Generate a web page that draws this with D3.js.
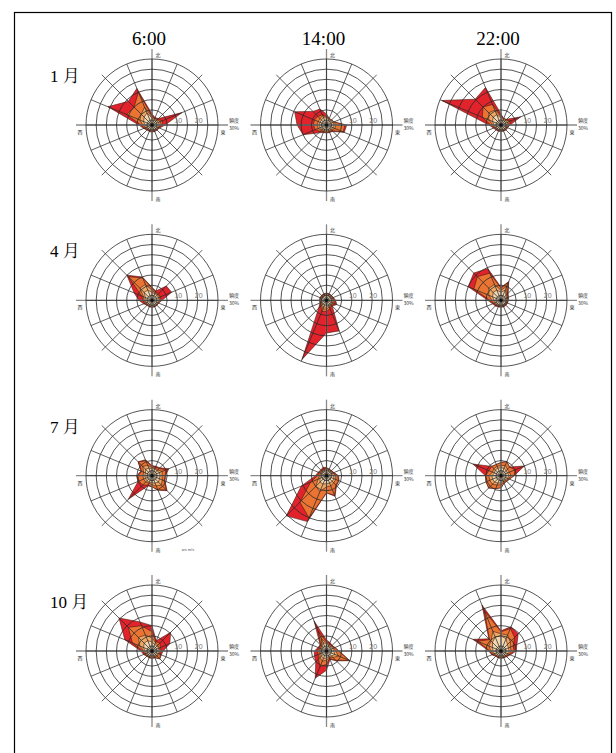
<!DOCTYPE html>
<html><head><meta charset="utf-8">
<script src="https://cdn.jsdelivr.net/npm/d3@7/dist/d3.min.js"></script>
<style>body{margin:0;background:#fff}svg{display:block}</style>
</head><body>
<svg id="c" width="616" height="753"></svg>
<script>
// ---- data (cumulative frequency %, 16 directions N, NNE ... NNW; 4 speed classes) ----
const times = ["6:00", "14:00", "22:00"];
const months = ["1 月", "4 月", "7 月", "10 月"];
const directions = ["N","NNE","NE","ENE","E","ESE","SE","SSE","S","SSW","SW","WSW","W","WNW","NW","NNW"];
const ringTicks = [0, 5, 10, 15, 20, 25, 30];
const tickLabels = ["10", "20"];

const jan06 = [
 [1,0.5,0.5,1,1,0.5,0.5,0.3,0.3,0.3,0.3,0.5,1,2,3,4],
 [1.5,1,1,2,1.5,1,0.5,0.5,0.5,0.5,0.5,1,2,4,5,7],
 [2,1,1.5,3,2.5,1,1,0.8,0.5,0.5,0.8,1.5,3,11,10,15],
 [3,1.5,2,13.5,4,1.5,1,1,1,1,1,2,4,21,14,17]];
const jan14 = [
 [1,0.5,0.5,1,1,1,0.5,0.5,0.5,0.5,0.5,1,1,1,1,1.5],
 [1.5,1,1,1.5,2,2,1,1,1,1,1,2,2,2,2,2.5],
 [2,1,1,1.5,6.5,6.5,1.5,1.2,1.2,1.2,2,3.5,4,4,3.5,3],
 [3,1,1,1.5,7.5,7,2,1.5,1.5,1.5,3,10,12,14.5,7,6]];
const jan22 = [
 [1,0.5,0.5,1,0.5,0.5,0.5,0.3,0.3,0.3,0.3,0.5,1,2,3,3],
 [1.5,1,1,2,1,0.5,0.5,0.5,0.5,0.5,0.5,1,1.5,4,6,5.5],
 [2,1,1,3,1.5,1,0.8,0.5,0.5,0.5,0.8,1,2.5,7.5,10,8.5],
 [3,1,1.5,8,2,1,1,0.8,0.8,0.8,1,1.5,3.5,29,15.5,17.5]];
const apr06 = [
 [1.5,1,1,1,1,0.5,0.5,0.5,0.5,0.5,0.5,0.5,1,1,3,3],
 [2.5,1.5,1.5,1.5,1.5,1,0.5,0.5,0.5,0.5,0.5,1,1.5,2,6,6],
 [3.5,2,2,2,2,1,1,0.8,0.8,0.8,0.8,1.5,2,3,14,9.5],
 [4,2.5,7.5,8,2.5,1,1,1,1,1,1,2,4,7,15,10]];
const apr14 = [
 [0.5,0.5,0.5,0.5,0.5,0.5,0.5,0.5,1,1,0.5,0.3,0.3,0.3,0.3,0.3],
 [0.8,0.5,0.5,0.8,1,1,0.8,1,2,2,1,0.5,0.5,0.5,0.5,0.5],
 [1,0.8,0.8,1,1.5,2,1,2,3,3.5,1.5,0.8,0.8,0.8,0.8,0.8],
 [1.2,1,1,1.2,2,3,1.5,13.8,13.6,29,3,1,1,1,1,1]];
const apr22 = [
 [1.5,3,1,0.5,0.5,0.3,0.3,0.3,0.3,0.3,0.5,0.5,1,2,3,3],
 [2.5,5,1.5,1,0.8,0.5,0.5,0.5,0.5,0.5,0.8,1,2,4,6,6],
 [3.5,7,2,1.2,1,0.8,0.8,0.8,0.8,0.8,1,1.5,3,12,14,12],
 [4,7.5,2.5,1.5,1.2,1,1,1,1,1,1.5,2,4,15,16.5,14.5]];
const jul06 = [
 [1,1,1,1.5,1.5,1.5,2,1.5,1,1,1,1,1,1,2,1.5],
 [1.5,1.5,1.5,3,2.5,3,4,3,2,1.5,2,2,2,2,4,3],
 [2,2,2.5,5,4,4,7.5,5,3,2.5,4,4.5,4.5,3,7,5.5],
 [2.5,2.5,3,6.5,4.2,4.5,8,5.3,3,3,14,5,5,3.5,7.2,6]];
const jul14 = [
 [0.5,0.5,0.5,0.5,1,1.5,1.5,1.5,1.5,2,2,1,0.5,0.5,0.5,0.5],
 [1,0.8,0.8,1,2,2.5,2.5,3,3,6,5,2,1,0.8,0.8,0.8],
 [1.2,1,1,1.2,3,4,4,8,6,20,16,6,2,1.5,1.2,1.2],
 [1.5,1,1,1.5,3.5,4.2,4.5,8.5,6,22,25.5,11,3,2,1.5,2]];
const jul22 = [
 [1.5,1.5,1,1,1.5,1,0.5,0.5,1,1.5,2,2,2,1,1.5,1.5],
 [2.5,3,2,2,2.5,1.5,1,1,2,2.5,3.5,3.5,3.5,2,2.5,2.5],
 [4,5,3.5,5,4,2,1.5,1.5,3.5,4.4,6,5.5,5.2,4,4,3.5],
 [4.1,5,3.5,10,4,2,1.5,1.5,3.5,4.4,6.2,5.5,5.2,12.5,4,3.5]];
const oct06 = [
 [2,1,1,1,1,1,0.5,0.5,0.5,0.5,0.5,0.5,1,2,3,3],
 [4,2,1.5,1.5,1.5,1.5,1,0.8,0.8,0.8,0.8,1,1.5,4,7,6],
 [7,2.5,3,2,2,2,3,1,1,1,1,1.5,2,8,14,11],
 [10,3,10.5,7,3,2.5,3,1.2,1.2,1.2,1.2,2,3,12,20.5,13]];
const oct14 = [
 [1,0.5,0.5,1,1,2,1,0.5,1,1.5,1,0.5,0.5,0.5,0.5,2],
 [1.5,1,1,1.5,2,4,2,1,2,3,2,1,1,1,1,4],
 [2,1.5,1.2,2,3.5,9.5,4,1.5,4,6,3,2,2,1.5,1.5,8],
 [3,2,1.5,2,3.8,10,4.4,2,7,12,5,4,3.5,2,2,13.5]];
const oct22 = [
 [5,4,2,1.5,1.5,1,0.5,0.5,0.5,0.5,0.5,1,1.5,2,3.5,5],
 [6,6,4,2.5,2.5,1.5,1,0.8,0.8,0.8,0.8,1.5,2.5,4,4.5,8],
 [7,9.5,7,4,4,2,1.2,1,1,1,1,2,3,10,5.5,19],
 [7.5,10.5,9.5,6,5,2.5,1.5,1.2,1.2,1.2,1.2,2.5,3.5,12.5,6,22]];

const panels = [[jan06, jan14, jan22],[apr06, apr14, apr22],[jul06, jul14, jul22],[oct06, oct14, oct22]];

// ---- drawing ----
const svg = d3.select("#c");
const colors = ["#f3d6ae", "#f0a865", "#ec7432", "#e2232b"];
const colX = d3.scalePoint().domain(times).range([152, 501]);
const rowY = d3.scalePoint().domain(months).range([125, 651]);
const r = d3.scaleLinear().domain([0, 30]).range([5, 66]);
const ang = d3.scalePoint().domain(directions).range([0, 2*Math.PI*15/16]);
const serif = "'Liberation Serif','Times New Roman','Noto Serif CJK JP','Noto Sans CJK JP',serif";
const cjk = "'Noto Sans CJK JP','DejaVu Sans',sans-serif";

svg.append("rect").attr("x",14.5).attr("y",12.5).attr("width",597).attr("height",780)
  .attr("fill","none").attr("stroke","#000").attr("stroke-width",1.2);

times.forEach(t => svg.append("text").attr("x", colX(t)-3).attr("y", 45)
  .attr("text-anchor","middle").attr("font-family",serif).attr("font-size",19).text(t));
months.forEach(m => svg.append("text").attr("x", 50).attr("y", rowY(m)-43)
  .attr("font-family",serif).attr("font-size",17).text(m));

const line = d3.lineRadial().angle((d,i)=>ang(directions[i])).radius(d=>r(d)).curve(d3.curveLinearClosed);

panels.forEach((row, ri) => row.forEach((levels, ci) => {
  const cx = colX(times[ci]), cy = rowY(months[ri]);
  const g = svg.append("g").attr("transform",`translate(${cx},${cy})`);
  // petals, outermost class first
  for (let k = levels.length-1; k >= 0; k--) {
    g.append("path").attr("d", line(levels[k])).attr("fill", colors[k])
      .attr("stroke","#4a1a0e").attr("stroke-width",0.6).attr("stroke-linejoin","round");
  }
  // axes
  [[0,-76,0,76],[-76,0,76,0]].forEach(a => g.append("line").attr("x1",a[0]).attr("y1",a[1])
    .attr("x2",a[2]).attr("y2",a[3]).attr("stroke","#8a8a8a").attr("stroke-width",1.3));
  // spokes
  directions.forEach((d,i) => {
    const a = ang(d), ext = (i%4===2) ? 71 : r(30);
    g.append("line").attr("x1",0).attr("y1",0)
      .attr("x2", ext*Math.sin(a)).attr("y2", -ext*Math.cos(a))
      .attr("stroke","#2a2a2a").attr("stroke-width",0.75);
  });
  // rings
  ringTicks.forEach(v => g.append("circle").attr("r", r(v)).attr("fill","none")
    .attr("stroke","#2a2a2a").attr("stroke-width", 0.8));
  g.append("circle").attr("r",1.6).attr("fill","#111");
  // labels
  tickLabels.forEach(t => g.append("text").attr("x", r(+t)+1).attr("y",-2)
    .attr("text-anchor","middle").attr("font-family","'Liberation Sans',sans-serif")
    .attr("font-size",7).attr("fill","#777").text(t));
  const small = (x,y,t,anchor) => g.append("text").attr("x",x).attr("y",y)
    .attr("text-anchor",anchor||"middle").attr("font-family",cjk).attr("font-size",5).attr("fill","#333").text(t);
  small(6,-68,"北"); small(6,76,"南"); small(-72,9,"西"); small(71,9,"東");
  small(82,-3,"頻度"); small(82,5,"30%");
}));

svg.append("text").attr("x",188).attr("y",551).attr("text-anchor","middle")
  .attr("font-family","'Liberation Sans',sans-serif").attr("font-size",4).attr("fill","#555").text("ws m/s");
</script>
</body></html>
